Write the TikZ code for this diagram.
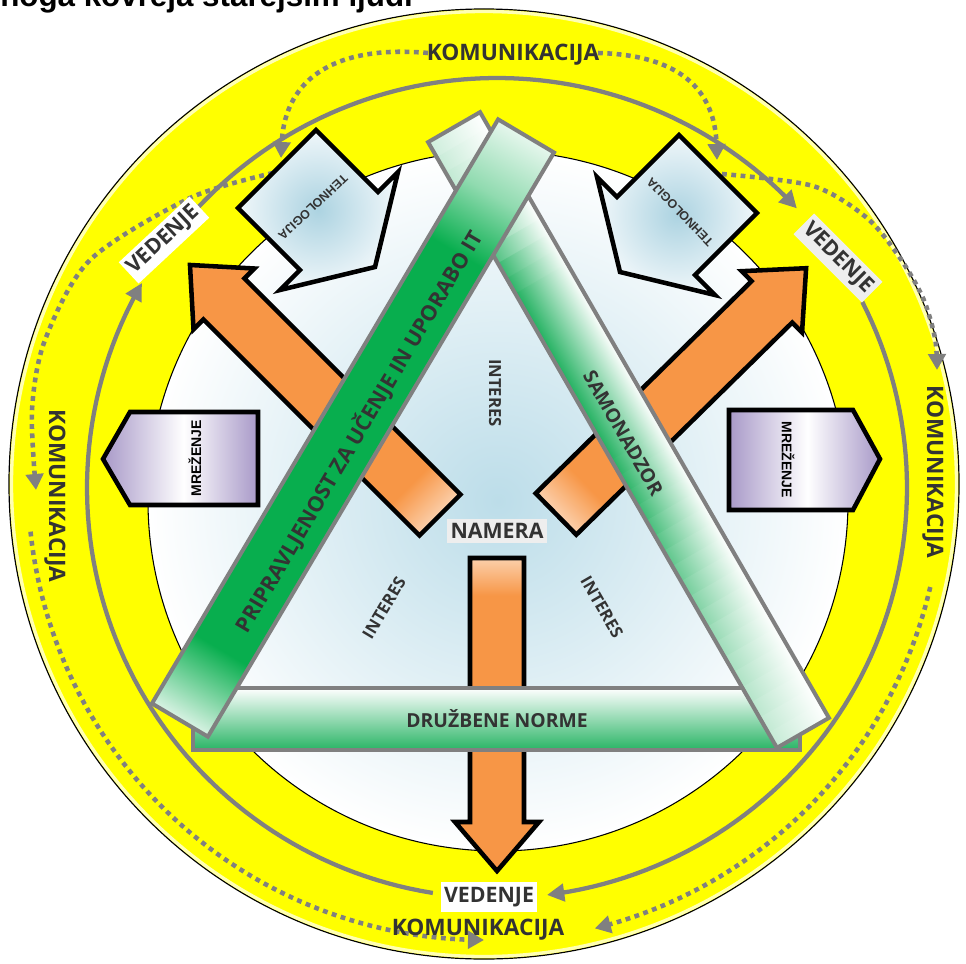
\documentclass[tikz,border=0pt]{standalone}
\usepackage{fontspec}
\setmainfont{Open Sans}
\newfontfamily\lsans{Liberation Sans}
\usetikzlibrary{arrows.meta}
\definecolor{ylw}{RGB}{255,255,0}
\definecolor{ringgray}{RGB}{128,128,128}
\definecolor{bargray}{RGB}{128,128,128}
\definecolor{txtgray}{RGB}{51,51,51}
\definecolor{gbar}{RGB}{8,174,78}
\definecolor{gbar2}{RGB}{34,177,96}
\definecolor{gbot}{RGB}{40,180,100}
\definecolor{orng}{RGB}{247,150,70}
\definecolor{lblue}{RGB}{188,221,233}
\definecolor{techblue}{RGB}{172,211,225}
\definecolor{techout}{RGB}{240,247,250}
\definecolor{purp}{RGB}{168,153,200}
\definecolor{boxgray}{RGB}{238,238,238}
\pgfdeclarehorizontalshading{lbarshade}{100bp}{color(0bp)=(white); color(25bp)=(white!85!gbar); color(31bp)=(gbar); color(65bp)=(gbar); color(70bp)=(white!55!gbar); color(75bp)=(white!90!gbar); color(100bp)=(white)}
\pgfdeclarehorizontalshading{orshade}{100bp}{color(0bp)=(white); color(25bp)=(white!55!orng); color(31bp)=(orng); color(100bp)=(orng)}
\pgfdeclarehorizontalshading{mrshade}{100bp}{color(0bp)=(purp); color(25bp)=(purp); color(51bp)=(white); color(75bp)=(purp); color(100bp)=(purp)}
\tikzset{
  titlelbl/.style={anchor=base west, inner sep=0pt, font=\lsans\bfseries\fontsize{23.5}{28}\selectfont},
  komlbl/.style={font=\bfseries\fontsize{17}{20}\selectfont, text=txtgray, inner sep=1pt},
  vedbox/.style={font=\bfseries\fontsize{16}{19}\selectfont, text=txtgray, fill=white, inner xsep=2.5pt, inner ysep=3.5pt},
  inlbl/.style={font=\bfseries\fontsize{12.5}{15}\selectfont, text=txtgray, inner sep=1pt},
  barlbl/.style={font=\bfseries\fontsize{16}{19}\selectfont, text=txtgray, inner sep=1pt},
  normlbl/.style={font=\bfseries\fontsize{14.5}{17}\selectfont, text=txtgray, inner sep=1pt},
  techlbl/.style={font=\lsans\bfseries\fontsize{9.3}{11}\selectfont, text=txtgray, inner sep=1pt},
  mrelbl/.style={font=\lsans\bfseries\fontsize{10.5}{12}\selectfont, text=black, inner sep=1pt},
  ringline/.style={draw=ringgray, line width=3.2pt},
  ringtip/.style={-{Triangle[length=13pt,width=13pt]}},
  dotline/.style={draw=ringgray, line width=3.4pt, dash pattern=on 3.6pt off 3.4pt},
  dottip/.style={-{Triangle[length=12pt,width=13pt]}},
  barline/.style={draw=bargray, line width=3pt, line join=miter},
  arrowline/.style={draw=black, line width=3.4pt, line join=miter},
  blackline/.style={draw=black, line width=3.4pt, line join=miter}
}
\begin{document}
\begin{tikzpicture}[x=0.75pt,y=-0.75pt]
\useasboundingbox (0,0) rectangle (966,963);
\fill[white] (0,0) rectangle (966,963);
\node[titlelbl] (title) at (0,7) {noga kovreja starejšim ljudi};

% outer yellow disc
\filldraw[fill=ylw, draw=black, line width=0.9pt] (484,484) circle[radius=475];
\draw[white, line width=2.5pt, opacity=0.7] (484,484) circle[radius=472.5];
% inner disc
\shadedraw[inner color=lblue, outer color=white, draw=black, line width=0.8pt] (498,501) circle[radius=350];

% solid ring (VEDENJE)
\draw[ringline, ringtip] plot[domain=-137:-43, samples=70] ({497+410*cos(\x)},{488+410*sin(\x)});
\draw[ringline, ringtip] plot[domain=-27:83, samples=70] ({497+410*cos(\x)},{488+410*sin(\x)});
\draw[ringline, ringtip] plot[domain=99:210, samples=70] ({497+410*cos(\x)},{488+410*sin(\x)});

% dotted ring (KOMUNIKACIJA)
\draw[dotline, dottip] (428,53) .. controls (340,45) and (285,75) .. (281,158);
\draw[dotline, dottip] (598,53) .. controls (680,55) and (715,90) .. (717,160);
\draw[dotline, dottip] plot[smooth] coordinates {(722,174) (813,186) (867,218) (900,258) (923,298) (935,338) (937,370)};
\draw[dotline, dottip] plot[smooth] coordinates {(273,173) (190,198) (90,260) (45,340) (32,410) (36,490)};
\draw[dotline, dottip] plot[domain=13:76, samples=60] ({484+458*cos(\x)},{484+458*sin(\x)});
\draw[dotline, dottip] plot[domain=174:90, samples=60] ({484+456*cos(\x)},{484+456*sin(\x)});

% orange arrows
\begin{scope}[transform canvas={shift={(440,515)}, rotate=135}]
  \shadedraw[shading=orshade, arrowline] (0,-29) -- (305.6,-29) -- (305.6,-43) -- (353.6,0) -- (305.6,43) -- (305.6,29) -- (0,29) -- cycle;
\end{scope}
\begin{scope}[transform canvas={shift={(556,514)}, rotate=44.5}]
  \shadedraw[shading=orshade, arrowline] (0,-29) -- (302.7,-29) -- (302.7,-43) -- (350.7,0) -- (302.7,43) -- (302.7,29) -- (0,29) -- cycle;
\end{scope}
\begin{scope}[transform canvas={shift={(497,558)}, rotate=-90}]
  \shadedraw[shading=orshade, arrowline] (0,-27) -- (264,-27) -- (264,-42) -- (313,0) -- (264,42) -- (264,27) -- (0,27) -- cycle;
\end{scope}

% TEHNOLOGIJA arrows
\shadedraw[inner color=techblue, outer color=techout, blackline] (316,130) -- (378,192) -- (398,172) -- (375,267) -- (280,290) -- (300,270) -- (238,208) -- cycle;
\node[techlbl, rotate=223] (tech1) at (313,207) {TEHNOLOGIJA};
\shadedraw[inner color=techblue, outer color=techout, blackline] (679,135) -- (617,197) -- (597,177) -- (620,272) -- (715,295) -- (695,275) -- (757,213) -- cycle;
\node[techlbl, rotate=134] (tech2) at (680,212) {TEHNOLOGIJA};

% MREZENJE arrows
\shadedraw[shading=mrshade, blackline] (130,412) -- (258,412) -- (258,505) -- (130,505) -- (103,459) -- cycle;
\node[mrelbl, rotate=90] (mre1) at (195,458) {MREŽENJE};
\shadedraw[shading=mrshade, blackline] (729,410) -- (853,410) -- (880,459) -- (853,510) -- (729,510) -- cycle;
\node[mrelbl, rotate=-90] (mre2) at (788,460) {MREŽENJE};

% bottom bar
\shadedraw[top color=white, bottom color=gbot, barline] (193,688) rectangle (800,750);
\node[normlbl] (norme) at (497,719) {DRUŽBENE NORME};

% right bar (SAMONADZOR)
\begin{scope}[transform canvas={shift={(628.5,430)}, rotate=-60.06}]
  \foreach \f [count=\i from 0] in {22,25,28,34,40,52,65,78,90,95,100,100,100,100,100,100,100,100,100,100,100,98,95,92,88,83,78,73,68,63,58,53,48,44,40,37,34,31,28,26}{
    \shade[top color=white, bottom color=gbar2!\f!white] ({-349.5+\i*17.475},-30) rectangle ({-349.5+(\i+1)*17.475+0.6},30);
  }
  \draw[barline] (-349.5,-30) rectangle (349.5,30);
  \node[barlbl, font=\bfseries\fontsize{14.5}{17}\selectfont] (samo) at (0,6) {SAMONADZOR};
\end{scope}

% left bar (PRIPRAVLJENOST)
\begin{scope}[transform canvas={shift={(353,428)}, rotate=59.35}]
  \shade[shading=lbarshade] (-339.5,-32.5) rectangle (339.5,32.5);
  \draw[barline] (-339.5,-32.5) rectangle (339.5,32.5);
  \node[barlbl] (pripr) at (0,7) {PRIPRAVLJENOST ZA UČENJE IN UPORABO IT};
\end{scope}

% inner labels
\node[inlbl, rotate=-90] (int1) at (495,393) {INTERES};
\node[inlbl, rotate=59] (int2) at (384,608) {INTERES};
\node[inlbl, rotate=-60] (int3) at (602,607) {INTERES};
\node[vedbox, fill=boxgray] (namera) at (497,531) {NAMERA};

% VEDENJE labels
\node[vedbox, rotate=43] (ved1) at (164,240) {VEDENJE};
\node[vedbox, fill=boxgray, rotate=-45] (ved2) at (838,258) {VEDENJE};
\node[vedbox] (ved3) at (489,897) {VEDENJE};

% KOMUNIKACIJA labels
\node[komlbl] (kom1) at (513,55) {KOMUNIKACIJA};
\node[komlbl, rotate=-90] (kom2) at (933,472) {KOMUNIKACIJA};
\node[komlbl, rotate=-90] (kom3) at (55,496) {KOMUNIKACIJA};
\node[komlbl] (kom4) at (478,930) {KOMUNIKACIJA};
\end{tikzpicture}
\end{document}
